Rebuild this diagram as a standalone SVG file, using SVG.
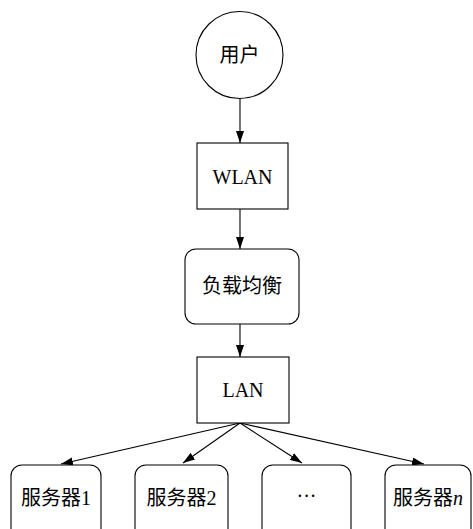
<svg xmlns="http://www.w3.org/2000/svg" width="473" height="529" viewBox="0 0 473 529">
<defs>
<marker id="arr" markerUnits="userSpaceOnUse" markerWidth="12" markerHeight="8" viewBox="0 0 12 8" refX="12" refY="4" orient="auto">
<path d="M0,0 L12,4 L0,8 Z" fill="#000"/>
</marker>
</defs>
<style>
.shape{fill:#fff;stroke:#000;stroke-width:1.1}
.edge{stroke:#000;stroke-width:1.1;fill:none;marker-end:url(#arr)}
.cn{font-family:"Noto Sans CJK SC","Liberation Serif",serif;font-size:20px;fill:#000;text-anchor:middle}
.lt{font-family:"Liberation Serif",serif;font-size:20px;fill:#000;text-anchor:middle}
</style>
<rect width="473" height="529" fill="#fff"/>
<g id="connectors">
<line class="edge" x1="240" y1="99" x2="240" y2="143"/>
<line class="edge" x1="240" y1="209" x2="240" y2="249"/>
<line class="edge" x1="240" y1="324" x2="240" y2="357"/>
<line class="edge" x1="240" y1="423" x2="61" y2="464"/>
<line class="edge" x1="240" y1="423" x2="183" y2="463"/>
<line class="edge" x1="240" y1="423" x2="302" y2="463"/>
<line class="edge" x1="240" y1="423" x2="424" y2="464"/>
</g>
<g id="user">
<circle class="shape" cx="239.5" cy="55" r="43.5"/>
<text class="cn" x="239.5" y="62">用户</text>
</g>
<g id="wlan">
<rect class="shape" x="197" y="143" width="91" height="66"/>
<text class="lt" x="242.5" y="184">WLAN</text>
</g>
<g id="lb">
<rect class="shape" x="185" y="249" width="114" height="75" rx="11"/>
<text class="cn" x="242" y="293">负载均衡</text>
</g>
<g id="lan">
<rect class="shape" x="197" y="357" width="92" height="66"/>
<text class="lt" x="243" y="397">LAN</text>
</g>
<g id="server1">
<rect class="shape" x="11" y="465" width="90" height="80" rx="11"/>
<text class="cn" x="56" y="505">服务器<tspan font-family="Liberation Serif" font-size="20">1</tspan></text>
</g>
<g id="server2">
<rect class="shape" x="135" y="465" width="93" height="80" rx="11"/>
<text class="cn" x="181.5" y="505">服务器<tspan font-family="Liberation Serif" font-size="20">2</tspan></text>
</g>
<g id="server3">
<rect class="shape" x="262" y="465" width="89" height="80" rx="11"/>
<text class="lt" x="306.5" y="503">···</text>
</g>
<g id="servern">
<rect class="shape" x="385" y="465" width="86" height="80" rx="11"/>
<text class="cn" x="428" y="505">服务器<tspan font-family="Liberation Serif" font-style="italic" font-size="20">n</tspan></text>
</g>
</svg>
